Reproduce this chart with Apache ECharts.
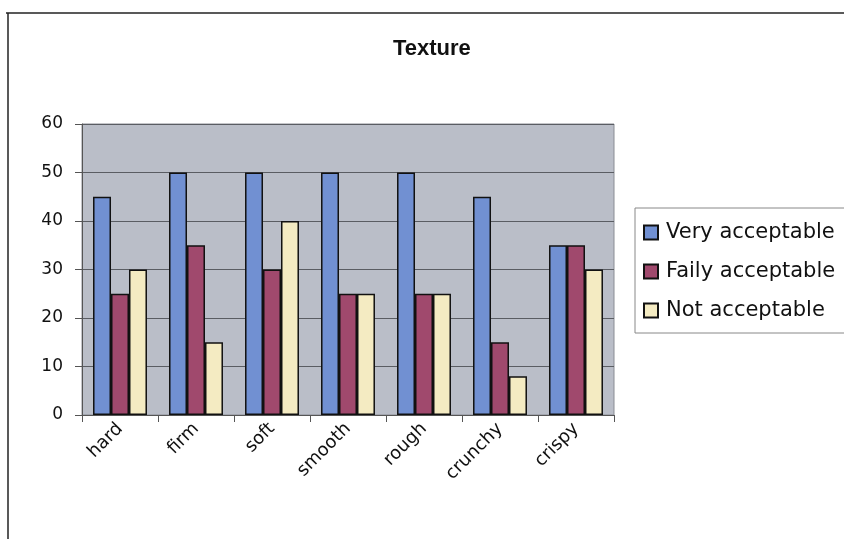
<!DOCTYPE html>
<html>
<head>
<meta charset="utf-8">
<script src="https://cdn.jsdelivr.net/npm/echarts@6/dist/echarts.min.js"></script>
<style>
  html, body { margin: 0; padding: 0; background: #fff; }
  #chart { width: 844px; height: 539px; }
</style>
</head>
<body>
<div id="chart"></div>
<script>
// Texture ratings per attribute
const categories = ['hard', 'firm', 'soft', 'smooth', 'rough', 'crunchy', 'crispy'];
const veryAcceptable = [45, 50, 50, 50, 50, 45, 35];
const failyAcceptable = [25, 35, 30, 25, 25, 15, 35];
const notAcceptable = [30, 15, 40, 25, 25, 8, 30];
const seriesNames = ['Very acceptable', 'Faily acceptable', 'Not acceptable'];
const seriesColors = ['#7190d2', '#a0496d', '#f4ebc2'];
const yTicks = { min: 0, max: 60, step: 10 };

const chart = echarts.init(document.getElementById('chart'));
const bodyFont = '"DejaVu Sans", sans-serif';
const titleFont = '"Liberation Sans", Arial, sans-serif';

function barSeries(name, data, color) {
  return {
    name: name,
    type: 'bar',
    data: data,
    barGap: '0%',
    barCategoryGap: '29%',
    itemStyle: { color: color, borderColor: '#111', borderWidth: 1.5 }
  };
}

chart.setOption({
  animation: false,
  backgroundColor: '#ffffff',
  textStyle: { fontFamily: bodyFont },
  title: {
    text: 'Texture',
    left: 393,
    top: 38,
    padding: 0,
    textStyle: { fontFamily: titleFont, fontSize: 22, fontWeight: 'bold', color: '#111' }
  },
  legend: {
    orient: 'vertical',
    left: 635,
    top: 208,
    padding: [14, 40, 12, 8],
    itemWidth: 14,
    itemHeight: 14,
    itemGap: 18,
    icon: 'rect',
    borderColor: '#888',
    borderWidth: 1,
    textStyle: { fontFamily: bodyFont, fontSize: 21, color: '#111', padding: [0, 0, 0, 3] },
    data: seriesNames
  },
  grid: {
    left: 82,
    right: 230,
    top: 124,
    bottom: 124,
    show: true,
    backgroundColor: '#babec8',
    borderColor: '#8a8d94',
    borderWidth: 1
  },
  xAxis: {
    type: 'category',
    data: categories,
    axisLine: { lineStyle: { color: '#555', width: 1 } },
    axisTick: { show: true, length: 7, lineStyle: { color: '#555' } },
    axisLabel: {
      rotate: 45,
      fontSize: 18,
      color: '#111',
      margin: 11,
      fontFamily: bodyFont
    }
  },
  yAxis: {
    type: 'value',
    min: yTicks.min,
    max: yTicks.max,
    interval: yTicks.step,
    axisLine: { show: true, lineStyle: { color: '#555', width: 1 } },
    axisTick: { show: true, length: 7, lineStyle: { color: '#555' } },
    axisLabel: { fontSize: 17, color: '#111', margin: 19, fontFamily: bodyFont },
    splitLine: { lineStyle: { color: '#5a5d63', width: 1 } }
  },
  graphic: [
    { type: 'line', shape: { x1: 6, y1: 13, x2: 844, y2: 13 }, style: { stroke: '#222', lineWidth: 1.5 } },
    { type: 'line', shape: { x1: 8, y1: 13, x2: 8, y2: 539 }, style: { stroke: '#222', lineWidth: 1.5 } }
  ],
  series: [
    barSeries(seriesNames[0], veryAcceptable, seriesColors[0]),
    barSeries(seriesNames[1], failyAcceptable, seriesColors[1]),
    barSeries(seriesNames[2], notAcceptable, seriesColors[2])
  ]
});
</script>
</body>
</html>
